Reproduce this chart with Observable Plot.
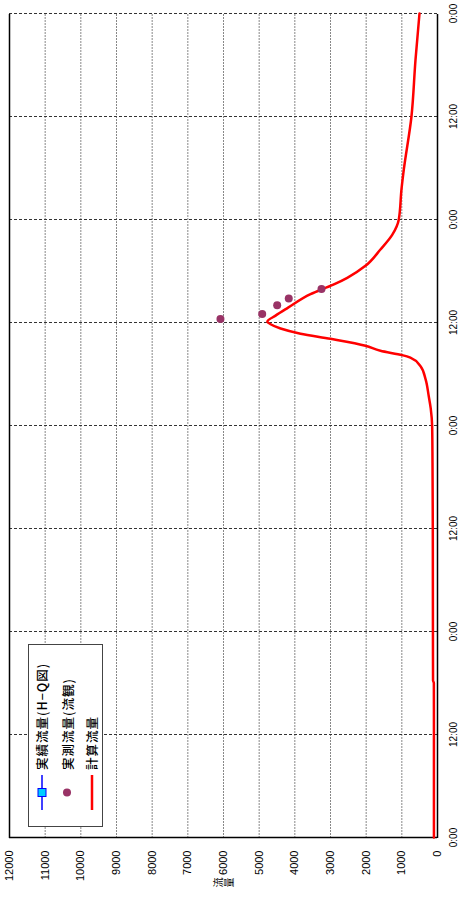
<!DOCTYPE html>
<html>
<head>
<meta charset="utf-8">
<script src="https://cdn.jsdelivr.net/npm/d3@7"></script>
<script src="https://cdn.jsdelivr.net/npm/@observablehq/plot@0.6"></script>
<style>
  html, body { margin: 0; padding: 0; background: #fff; }
  body { width: 469px; height: 911px; overflow: hidden; position: relative; }
  #rot {
    position: absolute; left: 0; top: 0; width: 911px; height: 469px;
    transform-origin: 0 0; transform: translateY(911px) rotate(-90deg);
    font-family: "Liberation Sans", Arial, sans-serif;
  }
  #legend {
    position: absolute; left: 84px; top: 28px; width: 181px; height: 73px;
    border: 1px solid #444; background: #fff;
    font-family: "Noto Sans CJK JP", sans-serif; font-size: 12.5px; letter-spacing: 1px;
    font-weight: 500; color: #000;
  }
  .row { position: absolute; left: 0; height: 20px; display: flex; align-items: center; white-space: nowrap; }
  .row svg { margin-left: 16px; margin-right: 5px; }
</style>
</head>
<body>
<div id="rot"></div>
<script>
// Time in hours from the start (4 days), computed flow
const calcHours = [0, 6, 12, 18, 18.3, 24, 30, 36, 42, 45, 47.9, 50, 51.4, 53.4, 54.9, 55.9, 56.2, 56.7, 57.3, 58.1, 58.7, 59.3, 59.8, 60.1, 60.8, 61.7, 63.3, 64.4, 65.2, 66.6, 68.5, 70.2, 72.0, 75.5, 77.8, 84, 90.6, 96];
const calcFlow  = [100, 100, 100, 102, 125, 128, 130, 132, 138, 142, 150, 190, 245, 335, 475, 760, 990, 1600, 2020, 3000, 3840, 4400, 4680, 4770, 4540, 4200, 3560, 2920, 2530, 2020, 1600, 1270, 1085, 1010, 945, 730, 617, 505];

// Observed flow (流観)
const obsHours = [60.4, 61.0, 62.0, 62.8, 63.9];
const obsFlow  = [6085, 4915, 4495, 4170, 3253];

// H-Q flow (no values plotted in the reference)
const hqHours = [];
const hqFlow = [];

const timeTicks = [0, 12, 24, 36, 48, 60, 72, 84, 96];
const timeTickLabels = ["0:00", "12:00", "0:00", "12:00", "0:00", "12:00", "0:00", "12:00", "0:00"];
const flowTicks = [0, 1000, 2000, 3000, 4000, 5000, 6000, 7000, 8000, 9000, 10000, 11000, 12000];

const seriesNames = ["実績流量(H−Q図)", "実測流量(流観)", "計算流量"];
const yTitle = "流\n量";

const calc = calcHours.map((t, i) => ({t, v: calcFlow[i]}));
const obs = obsHours.map((t, i) => ({t, v: obsFlow[i]}));
const hq = hqHours.map((t, i) => ({t, v: hqFlow[i]}));

const chart = Plot.plot({
  width: 911,
  height: 469,
  marginLeft: 73,
  marginRight: 14,
  marginTop: 9,
  marginBottom: 32,
  style: {fontFamily: "'Liberation Sans', Arial, sans-serif", background: "#fff"},
  x: {domain: [0, 96]},
  y: {domain: [0, 12000]},
  marks: [
    Plot.ruleY(flowTicks, {stroke: "#888", strokeDasharray: "2,1", strokeWidth: 1}),
    Plot.ruleX(timeTicks, {stroke: "#333", strokeDasharray: "3,2", strokeWidth: 1}),
    Plot.ruleY([0, 12000], {stroke: "#000", strokeWidth: 1.5}),
    Plot.ruleX([0], {stroke: "#000", strokeWidth: 1.5}),
    Plot.axisX({ticks: timeTicks, tickFormat: (d, i) => timeTickLabels[i], tickSize: 0, tickPadding: 12, fontSize: 10, label: null}),
    Plot.axisY({ticks: flowTicks, tickFormat: d => String(d), tickSize: 0, tickPadding: 13, fontSize: 11, label: null}),
    Plot.text([yTitle], {frameAnchor: "left", dx: -50, fontSize: 10, fontFamily: "Noto Sans CJK JP", lineHeight: 1.1}),
    Plot.line(hq, {x: "t", y: "v", stroke: "#0000ff", strokeWidth: 1.5}),
    Plot.line(calc, {x: "t", y: "v", stroke: "#ff0000", strokeWidth: 2.5, curve: "monotone-x"}),
    Plot.dot(obs, {x: "t", y: "v", r: 4, fill: "#993366", stroke: "none"})
  ]
});
const rot = document.getElementById("rot");
rot.appendChild(chart);

// Legend
const legend = document.createElement("div");
legend.id = "legend";
const symbols = [
  `<svg width="35" height="14"><line x1="0" y1="7" x2="35" y2="7" stroke="#0000ff" stroke-width="1.5"/><rect x="13.5" y="3" width="8" height="8" fill="#00ccff" stroke="#0000ff" stroke-width="1"/></svg>`,
  `<svg width="35" height="14"><circle cx="17.5" cy="7" r="4" fill="#993366"/></svg>`,
  `<svg width="35" height="14"><line x1="0" y1="7" x2="35" y2="7" stroke="#ff0000" stroke-width="2.5"/></svg>`
];
const rowCenters = [12.7, 38, 62.7];
seriesNames.forEach((name, i) => {
  const row = document.createElement("div");
  row.className = "row";
  row.style.top = (rowCenters[i] - 10) + "px";
  row.innerHTML = symbols[i] + `<span>${name}</span>`;
  legend.appendChild(row);
});
rot.appendChild(legend);
</script>
</body>
</html>
